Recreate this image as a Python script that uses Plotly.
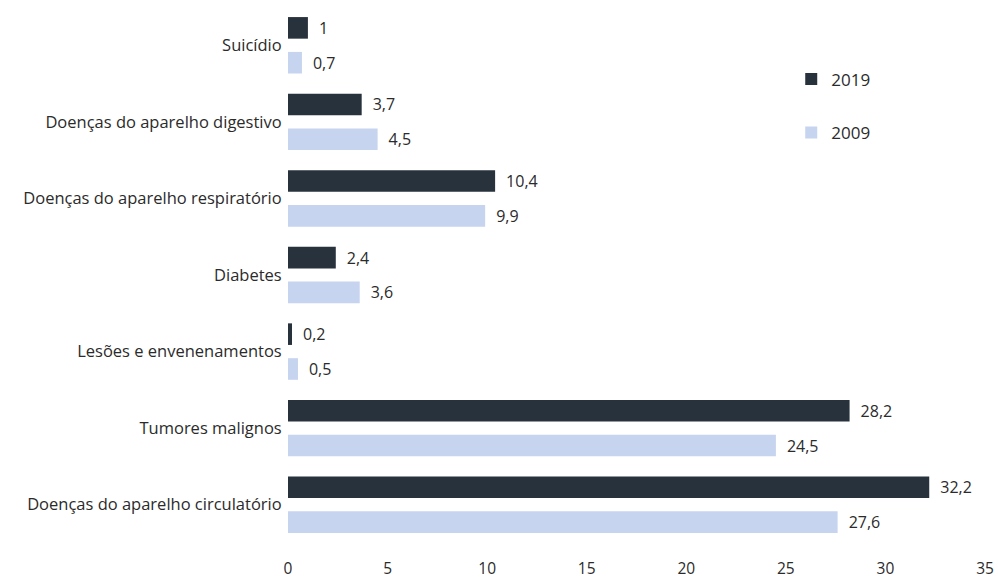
import plotly.graph_objects as go

# Causes of death, listed bottom to top
categories = [
    "Doenças do aparelho circulatório",
    "Tumores malignos",
    "Lesões e envenenamentos",
    "Diabetes",
    "Doenças do aparelho respiratório",
    "Doenças do aparelho digestivo",
    "Suicídio",
]
values_2019 = [32.2, 28.2, 0.2, 2.4, 10.4, 3.7, 1.0]
values_2009 = [27.6, 24.5, 0.5, 3.6, 9.9, 4.5, 0.7]
x_ticks = [0, 5, 10, 15, 20, 25, 30, 35]

DARK = "#28323d"
LIGHT = "#c7d4ef"
TEXT = "#2b2b2b"
FONT = "Open Sans"


def pt_label(v):
    # Portuguese decimal comma, with a small lead-in gap from the bar end
    return "\u2002" + f"{v:g}".replace(".", ",")


fig = go.Figure()
# 2009 first so it sits below 2019 inside each group
fig.add_trace(go.Bar(
    y=categories, x=values_2009, name="2009", orientation="h",
    marker=dict(color=LIGHT, line=dict(width=0)),
    text=[pt_label(v) for v in values_2009], textposition="outside",
    textfont=dict(size=16, color=TEXT, family=FONT),
    cliponaxis=False, legend="legend2",
))
fig.add_trace(go.Bar(
    y=categories, x=values_2019, name="2019", orientation="h",
    marker=dict(color=DARK, line=dict(width=0)),
    text=[pt_label(v) for v in values_2019], textposition="outside",
    textfont=dict(size=16, color=TEXT, family=FONT),
    cliponaxis=False, legend="legend",
))

fig.update_layout(
    width=998, height=581,
    margin=dict(l=288, r=13, t=7, b=38),
    paper_bgcolor="white", plot_bgcolor="white",
    font=dict(family=FONT, size=16, color=TEXT),
    barmode="group", bargap=0.09, bargroupgap=0.38,
    uniformtext=dict(minsize=16, mode="show"),
    xaxis=dict(
        range=[0, 35], tickvals=x_ticks, ticktext=[str(t) for t in x_ticks],
        showgrid=False, zeroline=False, showline=False,
        ticks="outside", ticklen=11, tickcolor="white",
        tickfont=dict(size=15.5, color=TEXT), automargin=False,
    ),
    yaxis=dict(
        categoryorder="array", categoryarray=categories,
        showgrid=False, zeroline=False, showline=False,
        ticks="outside", ticklen=2, tickcolor="white",
        tickfont=dict(size=16.5, color=TEXT), automargin=False,
    ),
    legend=dict(
        x=0.722, y=0.865, xanchor="left", yanchor="middle",
        bgcolor="rgba(0,0,0,0)", font=dict(size=17, color=TEXT),
        itemwidth=30,
    ),
    legend2=dict(
        x=0.722, y=0.765, xanchor="left", yanchor="middle",
        bgcolor="rgba(0,0,0,0)", font=dict(size=17, color=TEXT),
        itemwidth=30,
    ),
    showlegend=True,
)

fig.write_html("out.html")
